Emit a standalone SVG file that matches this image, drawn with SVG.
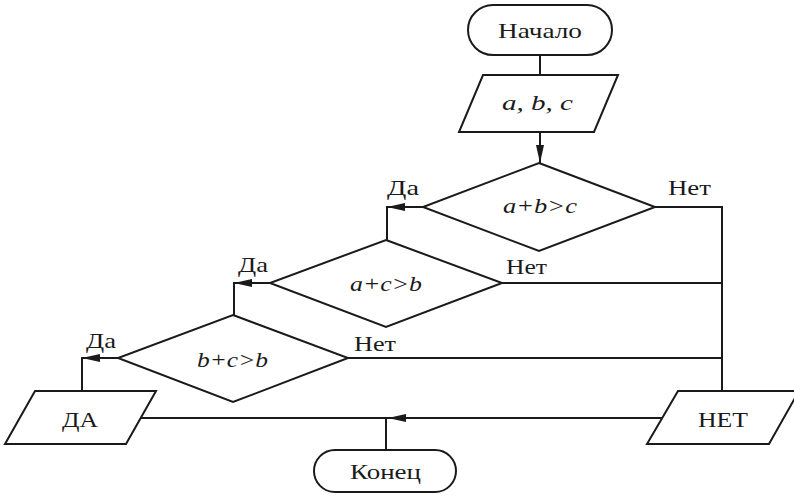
<svg xmlns="http://www.w3.org/2000/svg" width="794" height="499" viewBox="0 0 794 499">
<defs>
<marker id="arr" markerUnits="userSpaceOnUse" markerWidth="20" markerHeight="10" refX="18" refY="4" orient="auto">
<path d="M0,0 L18,4 L0,8 z" fill="#1a1a1a"/>
</marker>
<style>
.s{fill:#fff;stroke:#1a1a1a;stroke-width:2;stroke-linejoin:miter}
.c{fill:none;stroke:#1a1a1a;stroke-width:2}
text{font-family:'Liberation Serif','DejaVu Serif','Noto Serif','Times New Roman',Times,serif;font-size:22px;fill:#1a1a1a}
.i{font-style:italic}
</style>
</defs>
<rect width="794" height="499" fill="#fff"/>
<g id="connectors">
<path class="c" d="M540,55 L540,75"/>
<path class="c" d="M540,132 L540,163" marker-end="url(#arr)"/>
<path class="c" d="M423,207 L387,207" marker-end="url(#arr)"/>
<path class="c" d="M387,206 L387,240"/>
<path class="c" d="M270,283 L234,283" marker-end="url(#arr)"/>
<path class="c" d="M234,282 L234,315"/>
<path class="c" d="M118,358 L82,358" marker-end="url(#arr)"/>
<path class="c" d="M82,357 L82,391"/>
<path class="c" d="M655,207 L722,207 L722,391"/>
<path class="c" d="M502,283 L722,283"/>
<path class="c" d="M348,358 L722,358"/>
<path class="c" d="M662,418 L388,418" marker-end="url(#arr)"/>
<path class="c" d="M390,418 L141,418"/>
<path class="c" d="M386,418 L386,450"/>
<text font-family="Liberation Serif, serif" x="387" y="195" textLength="32" lengthAdjust="spacingAndGlyphs">Да</text>
<text font-family="Liberation Serif, serif" x="668" y="195" textLength="43" lengthAdjust="spacingAndGlyphs">Нет</text>
<text font-family="Liberation Serif, serif" x="238" y="272" textLength="30" lengthAdjust="spacingAndGlyphs">Да</text>
<text font-family="Liberation Serif, serif" x="506" y="274" textLength="41" lengthAdjust="spacingAndGlyphs">Нет</text>
<text font-family="Liberation Serif, serif" x="86" y="348" textLength="30" lengthAdjust="spacingAndGlyphs">Да</text>
<text font-family="Liberation Serif, serif" x="354" y="351" textLength="42" lengthAdjust="spacingAndGlyphs">Нет</text>
</g>
<g id="start">
<rect class="s" x="468" y="5" width="144" height="50" rx="25"/>
<text font-family="Liberation Serif, serif" x="498" y="38" textLength="84" lengthAdjust="spacingAndGlyphs">Начало</text>
</g>
<g id="input">
<path class="s" d="M483,75 L618,75 L594,132 L459,132 Z"/>
<text class="i" font-family="Liberation Serif, serif" x="502" y="110" textLength="71" lengthAdjust="spacingAndGlyphs">a, b, c</text>
</g>
<g id="cond1">
<path class="s" d="M539,163 L655,207 L539,251 L423,207 Z"/>
<text class="i" font-family="Liberation Serif, serif" x="503" y="213" textLength="74" lengthAdjust="spacingAndGlyphs">a+b&gt;c</text>
</g>
<g id="cond2">
<path class="s" d="M386,240 L502,283 L386,327 L270,283 Z"/>
<text class="i" font-family="Liberation Serif, serif" x="350" y="291" textLength="72" lengthAdjust="spacingAndGlyphs">a+c&gt;b</text>
</g>
<g id="cond3">
<path class="s" d="M233,315 L348,358 L233,402 L118,358 Z"/>
<text class="i" font-family="Liberation Serif, serif" x="197" y="367" textLength="71" lengthAdjust="spacingAndGlyphs">b+c&gt;b</text>
</g>
<g id="outYes">
<path class="s" d="M35,391 L156,391 L126,444 L5,444 Z"/>
<text font-family="Liberation Serif, serif" x="62" y="427" textLength="36" lengthAdjust="spacingAndGlyphs">ДА</text>
</g>
<g id="outNo">
<path class="s" d="M678,391 L799,391 L769,444 L647,444 Z"/>
<text font-family="Liberation Serif, serif" x="698" y="427" textLength="50" lengthAdjust="spacingAndGlyphs">НЕТ</text>
</g>
<g id="end">
<rect class="s" x="314" y="450" width="142" height="42" rx="21"/>
<text font-family="Liberation Serif, serif" x="350" y="479" textLength="71" lengthAdjust="spacingAndGlyphs">Конец</text>
</g>
</svg>
